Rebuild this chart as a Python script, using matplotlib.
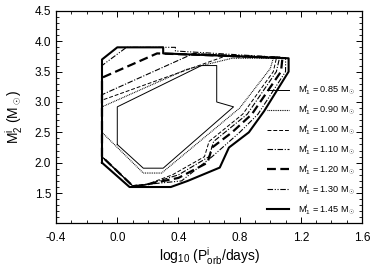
import matplotlib
matplotlib.use("Agg")
import matplotlib.pyplot as plt
from matplotlib.ticker import MultipleLocator

plt.rcParams['font.family'] = ['Liberation Sans', 'DejaVu Sans']
plt.rcParams['mathtext.fontset'] = 'custom'
plt.rcParams['mathtext.rm'] = 'Liberation Sans'
plt.rcParams['mathtext.it'] = 'Liberation Sans:italic'

masses = ["0.85", "0.90", "1.00", "1.10", "1.20", "1.30", "1.45"]

x_085 = [0.00, 0.00, 0.55, 0.65, 0.65, 0.76, 0.30, 0.17, 0.00]
y_085 = [2.30, 2.92, 3.60, 3.60, 3.00, 2.92, 1.91, 1.91, 2.30]

x_090 = [-0.10, -0.10, 0.455, 0.75, 1.02, 1.00, 0.80, 0.29, 0.17, -0.10]
y_090 = [2.50, 2.92, 3.54, 3.72, 3.72, 3.55, 2.90, 1.83, 1.83, 2.50]

x_100 = [-0.10, -0.10, 0.70, 1.04, 1.02, 0.82, 0.60, 0.57, 0.36, 0.20, 0.10, -0.10]
y_100 = [2.10, 3.03, 3.75, 3.72, 3.50, 2.80, 2.35, 2.10, 1.80, 1.65, 1.62, 2.10]

x_110 = [-0.10, -0.10, 0.50, 1.06, 1.04, 0.85, 0.63, 0.60, 0.40, 0.18, 0.10, -0.10]
y_110 = [2.10, 3.12, 3.80, 3.72, 3.50, 2.80, 2.35, 2.10, 1.80, 1.63, 1.62, 2.10]

x_120 = [-0.10, -0.10, 0.26, 1.08, 1.07, 0.88, 0.75, 0.62, 0.59, 0.40, 0.15, 0.10, -0.10]
y_120 = [2.10, 3.40, 3.80, 3.73, 3.50, 2.80, 2.50, 2.25, 2.00, 1.75, 1.62, 1.62, 2.10]

x_130 = [-0.10, -0.10, 0.06, 0.38, 0.38, 1.10, 1.10, 0.92, 0.80, 0.62, 0.42, 0.10, -0.10]
y_130 = [2.10, 3.60, 3.90, 3.90, 3.84, 3.73, 3.50, 2.80, 2.50, 2.10, 1.70, 1.62, 2.10]

x_145 = [-0.10, -0.10, 0.00, 0.30, 0.30, 1.12, 1.12, 0.96, 0.86, 0.73, 0.67, 0.46, 0.35, 0.08, -0.10]
y_145 = [2.00, 3.70, 3.90, 3.90, 3.80, 3.72, 3.50, 2.85, 2.50, 2.25, 1.92, 1.70, 1.60, 1.60, 2.00]

xs = [x_085, x_090, x_100, x_110, x_120, x_130, x_145]
ys = [y_085, y_090, y_100, y_110, y_120, y_130, y_145]

styles = [
    dict(linestyle='-', linewidth=0.7),
    dict(linestyle=(0, (0.8, 0.8)), linewidth=0.8),
    dict(linestyle=(0, (4, 2)), linewidth=0.7),
    dict(linestyle=(0, (5, 1.5, 1, 1.5)), linewidth=0.8),
    dict(linestyle=(0, (4, 2)), linewidth=1.6),
    dict(linestyle=(0, (5, 1.5, 1, 1.5, 1, 1.5)), linewidth=0.8),
    dict(linestyle='-', linewidth=1.5),
]

fig = plt.figure(figsize=(3.74, 2.66), dpi=100)
ax = fig.add_axes([0.150, 0.160, 0.818, 0.799])

for m, x, y, st in zip(masses, xs, ys, styles):
    ax.plot(x, y, color='black', label=r'M$_1^{\rm i}$ = ' + m + r' M$_\odot$', **st)

ax.set_xlim(-0.4, 1.6)
ax.set_ylim(1.0, 4.5)
ax.xaxis.set_major_locator(MultipleLocator(0.4))
ax.xaxis.set_minor_locator(MultipleLocator(0.1))
ax.yaxis.set_major_locator(MultipleLocator(0.5))
ax.yaxis.set_minor_locator(MultipleLocator(0.1))
ax.set_yticks([1.5, 2.0, 2.5, 3.0, 3.5, 4.0, 4.5])
ax.set_xticks([-0.4, 0.0, 0.4, 0.8, 1.2, 1.6])
ax.set_xticklabels(['-0.4', '0.0', '0.4', '0.8', '1.2', '1.6'])
ax.tick_params(which='both', direction='in', top=True, right=True, labelsize=8.5)
ax.tick_params(which='major', length=4, width=0.7)
ax.tick_params(which='minor', length=2, width=0.6)
ax.tick_params(axis='x', pad=6)
for s in ax.spines.values():
    s.set_linewidth(0.9)

ax.set_xlabel(r'log$_{10}$ (P$^{\rm i}_{\rm orb}$/days)', fontsize=10, labelpad=1)
ax.set_ylabel(r'M$^{\rm i}_2$ (M$_\odot$)', fontsize=10, labelpad=7)

leg = ax.legend(loc='lower right', bbox_to_anchor=(1.0, 0.0), frameon=False, fontsize=6.6,
                handlelength=2.4, handletextpad=1.0, labelspacing=0.55, borderaxespad=0.3)

fig.savefig('out.png', dpi=100)
